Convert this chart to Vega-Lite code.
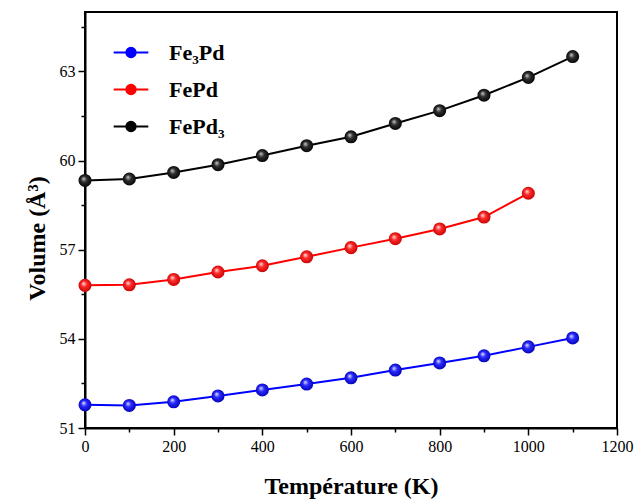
{
  "$schema": "https://vega.github.io/schema/vega-lite/v6.json",
  "width": 532,
  "height": 416,
  "autosize": "none",
  "padding": {"left": 85, "top": 12, "right": 18, "bottom": 71},
  "background": "white",
  "config": {
    "view": {"stroke": "black", "strokeWidth": 2},
    "axis": {
      "labelFont": "Liberation Serif", "titleFont": "Liberation Serif",
      "labelFontSize": 16, "titleFontSize": 24, "titleFontWeight": "bold",
      "labelColor": "black", "titleColor": "black",
      "domainColor": "black", "domainWidth": 2, "tickColor": "black", "tickWidth": 1.5,
      "grid": false
    }
  },
  "data": {"values": [
    {"T": 0, "V": 51.78, "s": "Fe₃Pd"},
    {"T": 100, "V": 51.76, "s": "Fe₃Pd"},
    {"T": 200, "V": 51.88, "s": "Fe₃Pd"},
    {"T": 300, "V": 52.08, "s": "Fe₃Pd"},
    {"T": 400, "V": 52.28, "s": "Fe₃Pd"},
    {"T": 500, "V": 52.48, "s": "Fe₃Pd"},
    {"T": 600, "V": 52.69, "s": "Fe₃Pd"},
    {"T": 700, "V": 52.95, "s": "Fe₃Pd"},
    {"T": 800, "V": 53.19, "s": "Fe₃Pd"},
    {"T": 900, "V": 53.43, "s": "Fe₃Pd"},
    {"T": 1000, "V": 53.73, "s": "Fe₃Pd"},
    {"T": 1100, "V": 54.03, "s": "Fe₃Pd"},
    {"T": 0, "V": 55.8, "s": "FePd"},
    {"T": 100, "V": 55.82, "s": "FePd"},
    {"T": 200, "V": 56.0, "s": "FePd"},
    {"T": 300, "V": 56.25, "s": "FePd"},
    {"T": 400, "V": 56.46, "s": "FePd"},
    {"T": 500, "V": 56.76, "s": "FePd"},
    {"T": 600, "V": 57.07, "s": "FePd"},
    {"T": 700, "V": 57.37, "s": "FePd"},
    {"T": 800, "V": 57.7, "s": "FePd"},
    {"T": 900, "V": 58.1, "s": "FePd"},
    {"T": 1000, "V": 58.9, "s": "FePd"},
    {"T": 0, "V": 59.33, "s": "FePd₃"},
    {"T": 100, "V": 59.38, "s": "FePd₃"},
    {"T": 200, "V": 59.6, "s": "FePd₃"},
    {"T": 300, "V": 59.86, "s": "FePd₃"},
    {"T": 400, "V": 60.17, "s": "FePd₃"},
    {"T": 500, "V": 60.5, "s": "FePd₃"},
    {"T": 600, "V": 60.8, "s": "FePd₃"},
    {"T": 700, "V": 61.25, "s": "FePd₃"},
    {"T": 800, "V": 61.68, "s": "FePd₃"},
    {"T": 900, "V": 62.2, "s": "FePd₃"},
    {"T": 1000, "V": 62.8, "s": "FePd₃"},
    {"T": 1100, "V": 63.5, "s": "FePd₃"}
  ]},
  "encoding": {
    "x": {"field": "T", "type": "quantitative",
      "scale": {"domain": [0, 1200], "nice": false},
      "axis": {"title": "Température (K)", "values": [0,100,200,300,400,500,600,700,800,900,1000,1100,1200],
        "labelExpr": "datum.value % 200 === 0 ? datum.value : ''",
        "tickSize": {"condition": {"test": "datum.value % 200 === 0", "value": 7}, "value": 4},
        "labelPadding": 3, "titlePadding": 20, "labelFlush": false}},
    "y": {"field": "V", "type": "quantitative",
      "scale": {"domain": [51, 65], "nice": false, "zero": false},
      "axis": {"title": "Volume (Å³)", "values": [51,52.5,54,55.5,57,58.5,60,61.5,63,64.5],
        "labelExpr": "datum.value % 3 === 0 ? datum.value : ''",
        "tickSize": {"condition": {"test": "datum.value % 3 === 0", "value": 7}, "value": 4},
        "labelPadding": 3, "titlePadding": 10, "titleY": 226, "labelFlush": false}}
  },
  "layer": [
    {
      "mark": {"type": "line", "strokeWidth": 2},
      "encoding": {
        "color": {"field": "s", "type": "nominal",
          "scale": {"domain": ["Fe₃Pd", "FePd", "FePd₃"], "range": ["#0000ff", "#ff0000", "#000000"]},
          "legend": {
            "title": null, "orient": "none", "legendX": 26, "legendY": 22,
            "labelFont": "Liberation Serif", "labelFontSize": 22, "labelFontWeight": "bold", "labelColor": "black",
            "rowPadding": 7, "labelOffset": 21,
            "symbolSize": 1200, "symbolStrokeWidth": 2,
            "symbolType": "M-1,0L1,0M-0.27,0A0.27,0.27,0,1,1,0.27,0A0.27,0.27,0,1,1,-0.27,0",
            "encode": {"symbols": {"update": {
              "fill": {"scale": "color", "field": "value"},
              "stroke": {"scale": "color", "field": "value"},
              "size": {"value": 1200},
              "xc": {"value": 20}
            }}}
          }}
      }
    },
    {
      "transform": [{"filter": "datum.s === 'Fe₃Pd'"}],
      "mark": {"type": "point", "filled": true, "size": 170, "opacity": 1,
        "fill": {"gradient": "radial", "x1": 0.38, "y1": 0.35, "r1": 0, "x2": 0.5, "y2": 0.5, "r2": 0.55,
          "stops": [{"offset": 0, "color": "#e8e8ff"}, {"offset": 0.4, "color": "#2a2aff"}, {"offset": 1, "color": "#0000b0"}]}}
    },
    {
      "transform": [{"filter": "datum.s === 'FePd'"}],
      "mark": {"type": "point", "filled": true, "size": 170, "opacity": 1,
        "fill": {"gradient": "radial", "x1": 0.38, "y1": 0.35, "r1": 0, "x2": 0.5, "y2": 0.5, "r2": 0.55,
          "stops": [{"offset": 0, "color": "#ffe8e8"}, {"offset": 0.4, "color": "#ff2a2a"}, {"offset": 1, "color": "#c00000"}]}}
    },
    {
      "transform": [{"filter": "datum.s === 'FePd₃'"}],
      "mark": {"type": "point", "filled": true, "size": 170, "opacity": 1,
        "fill": {"gradient": "radial", "x1": 0.38, "y1": 0.35, "r1": 0, "x2": 0.5, "y2": 0.5, "r2": 0.55,
          "stops": [{"offset": 0, "color": "#d0d0d0"}, {"offset": 0.4, "color": "#303030"}, {"offset": 1, "color": "#000000"}]}}
    }
  ]
}
